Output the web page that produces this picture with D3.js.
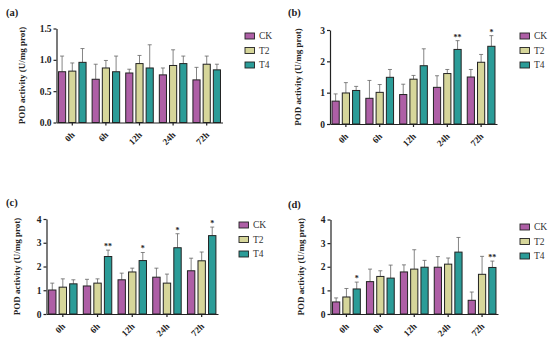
<!DOCTYPE html>
<html>
<head>
<meta charset="utf-8">
<script src="https://cdn.jsdelivr.net/npm/d3@7"></script>
<style>
  body { margin: 0; background: #fff; }
  svg { display: block; }
  text { font-family: "Liberation Serif", "Times New Roman", serif; }
</style>
</head>
<body>
<svg id="chart" width="550" height="341"></svg>
<script>
'use strict'

const times = ['0h', '6h', '12h', '24h', '72h']
const groups = ['CK', 'T2', 'T4']
const colors = ['#ae5fa6', '#d6d69a', '#2b9c98']

// means per group, one entry per time point; err = upper error bar length
const aCK = [0.81, 0.69, 0.79, 0.76, 0.68]
const aT2 = [0.82, 0.87, 0.94, 0.91, 0.93]
const aT4 = [0.96, 0.81, 0.87, 0.94, 0.84]
const aCKerr = [0.25, 0.24, 0.06, 0.11, 0.20]
const aT2err = [0.13, 0.12, 0.13, 0.25, 0.13]
const aT4err = [0.22, 0.25, 0.37, 0.12, 0.09]

const bCK = [0.73, 0.82, 0.94, 1.17, 1.50]
const bT2 = [0.99, 1.01, 1.43, 1.61, 1.97]
const bT4 = [1.07, 1.49, 1.86, 2.38, 2.48]
const bCKerr = [0.23, 0.57, 0.33, 0.37, 0.24]
const bT2err = [0.33, 0.25, 0.12, 0.13, 0.25]
const bT4err = [0.13, 0.25, 0.54, 0.28, 0.34]
const bStars = ['', '', '', '**', '*']

const cCK = [1.01, 1.18, 1.44, 1.55, 1.82]
const cT2 = [1.13, 1.30, 1.77, 1.30, 2.24]
const cT4 = [1.27, 2.42, 2.25, 2.79, 3.30]
const cCKerr = [0.29, 0.28, 0.28, 0.38, 0.53]
const cT2err = [0.35, 0.18, 0.16, 0.38, 0.37]
const cT4err = [0.17, 0.27, 0.34, 0.59, 0.36]
const cStars = ['', '**', '*', '*', '*']

const dCK = [0.51, 1.37, 1.78, 1.98, 0.58]
const dT2 = [0.72, 1.59, 1.90, 2.11, 1.68]
const dT4 = [1.06, 1.52, 1.98, 2.62, 1.97]
const dCKerr = [0.17, 0.53, 0.30, 0.45, 0.35]
const dT2err = [0.36, 0.24, 0.82, 0.26, 0.76]
const dT4err = [0.29, 0.55, 0.29, 0.62, 0.27]
const dStars = ['*', '', '', '', '**']

const yTicksA = [0, 0.5, 1.0, 1.5]
const yTicksB = [0, 1, 2, 3]
const yTicksCD = [0, 1, 2, 3, 4]

const panels = [
  { label: '(a)', lx: 6, ly: 16, x0: 56.5, x1: 222.5, y0: 122.5, y1: 28.5, max: 1.5, ticks: yTicksA, fmt: d3.format('.1f'),
    means: [aCK, aT2, aT4], errs: [aCKerr, aT2err, aT4err], stars: null, titleX: 22, legX: 245, legY: 36 },
  { label: '(b)', lx: 288, ly: 16, x0: 330, x1: 497, y0: 124, y1: 30, max: 3, ticks: yTicksB, fmt: d3.format('d'),
    means: [bCK, bT2, bT4], errs: [bCKerr, bT2err, bT4err], stars: bStars, titleX: 298, legX: 520, legY: 36 },
  { label: '(c)', lx: 6, ly: 206, x0: 46.5, x1: 218, y0: 314, y1: 219, max: 4, ticks: yTicksCD, fmt: d3.format('d'),
    means: [cCK, cT2, cT4], errs: [cCKerr, cT2err, cT4err], stars: cStars, titleX: 17, legX: 239, legY: 225 },
  { label: '(d)', lx: 288, ly: 208, x0: 330.5, x1: 498, y0: 314, y1: 219.5, max: 4, ticks: yTicksCD, fmt: d3.format('d'),
    means: [dCK, dT2, dT4], errs: [dCKerr, dT2err, dT4err], stars: dStars, titleX: 301, legX: 520, legY: 227 }
]

const svg = d3.select('#chart')
const ink = '#222'

panels.forEach(p => {
  const g = svg.append('g')

  const x = d3.scaleBand().domain(times).range([p.x0, p.x1]).paddingInner(0.18).paddingOuter(0.06)
  const xs = d3.scaleBand().domain(groups).range([0, x.bandwidth()]).paddingInner(0.3)
  const y = d3.scaleLinear().domain([0, p.max]).range([p.y0, p.y1])

  g.append('text').attr('x', p.lx).attr('y', p.ly)
    .attr('font-size', 10.5).attr('font-weight', 'bold').attr('fill', ink).text(p.label)

  // bars
  groups.forEach((grp, gi) => {
    times.forEach((t, ti) => {
      const v = p.means[gi][ti]
      const e = p.errs[gi][ti]
      const bx = x(t) + xs(grp)
      const cx = bx + xs.bandwidth() / 2
      g.append('line').attr('x1', cx).attr('x2', cx)
        .attr('y1', y(v)).attr('y2', y(v + e))
        .attr('stroke', '#666').attr('stroke-width', 0.8)
      g.append('line').attr('x1', cx - 2).attr('x2', cx + 2)
        .attr('y1', y(v + e)).attr('y2', y(v + e))
        .attr('stroke', '#666').attr('stroke-width', 0.8)
      g.append('rect').attr('x', bx).attr('width', xs.bandwidth())
        .attr('y', y(v)).attr('height', y(0) - y(v))
        .attr('fill', colors[gi]).attr('stroke', ink).attr('stroke-width', 1)
      if (gi === 2 && p.stars && p.stars[ti]) {
        g.append('text').attr('x', cx).attr('y', y(v + e) - 1)
          .attr('text-anchor', 'middle').attr('font-size', 8).attr('font-weight', 'bold')
          .attr('fill', ink).text(p.stars[ti])
      }
    })
  })

  // y axis
  const ya = g.append('g').attr('transform', `translate(${p.x0},0)`)
    .call(d3.axisLeft(y).tickValues(p.ticks).tickFormat(p.fmt).tickSize(3).tickSizeOuter(0))
  ya.select('.domain').attr('stroke', ink).attr('stroke-width', 1.2)
  ya.selectAll('.tick line').attr('stroke', ink).attr('stroke-width', 1.2)
  ya.selectAll('.tick text').attr('font-family', '"Liberation Serif", serif')
    .attr('font-size', 9.5).attr('font-weight', 'bold').attr('fill', ink).attr('dx', 1)

  // x axis
  const xa = g.append('g').attr('transform', `translate(0,${p.y0})`)
    .call(d3.axisBottom(x).tickSize(3).tickSizeOuter(0))
  xa.select('.domain').attr('stroke', ink).attr('stroke-width', 1.2)
  xa.selectAll('.tick line').attr('stroke', ink).attr('stroke-width', 1.2)
  xa.selectAll('.tick text').attr('font-family', '"Liberation Serif", serif')
    .attr('font-size', 9).attr('font-weight', 'bold').attr('fill', ink)
    .attr('text-anchor', 'end').attr('dy', null).attr('y', 0)
    .attr('transform', 'translate(3,13) rotate(-45)')

  g.append('text')
    .attr('transform', `translate(${p.titleX},${(p.y0 + p.y1) / 2}) rotate(-90)`)
    .attr('text-anchor', 'middle').attr('dy', '0.35em')
    .attr('font-size', 9).attr('font-weight', 'bold').attr('fill', ink)
    .text('POD activity (U/mg prot)')

  // legend
  groups.forEach((grp, gi) => {
    const ly = p.legY + gi * 14.5
    g.append('rect').attr('x', p.legX).attr('y', ly - 3).attr('width', 9.5).attr('height', 6)
      .attr('fill', colors[gi]).attr('stroke', ink).attr('stroke-width', 0.9)
    g.append('text').attr('x', p.legX + 14).attr('y', ly).attr('dy', '0.35em')
      .attr('font-size', 9.5).attr('fill', '#333').text(grp)
  })
})
</script>
</body>
</html>
